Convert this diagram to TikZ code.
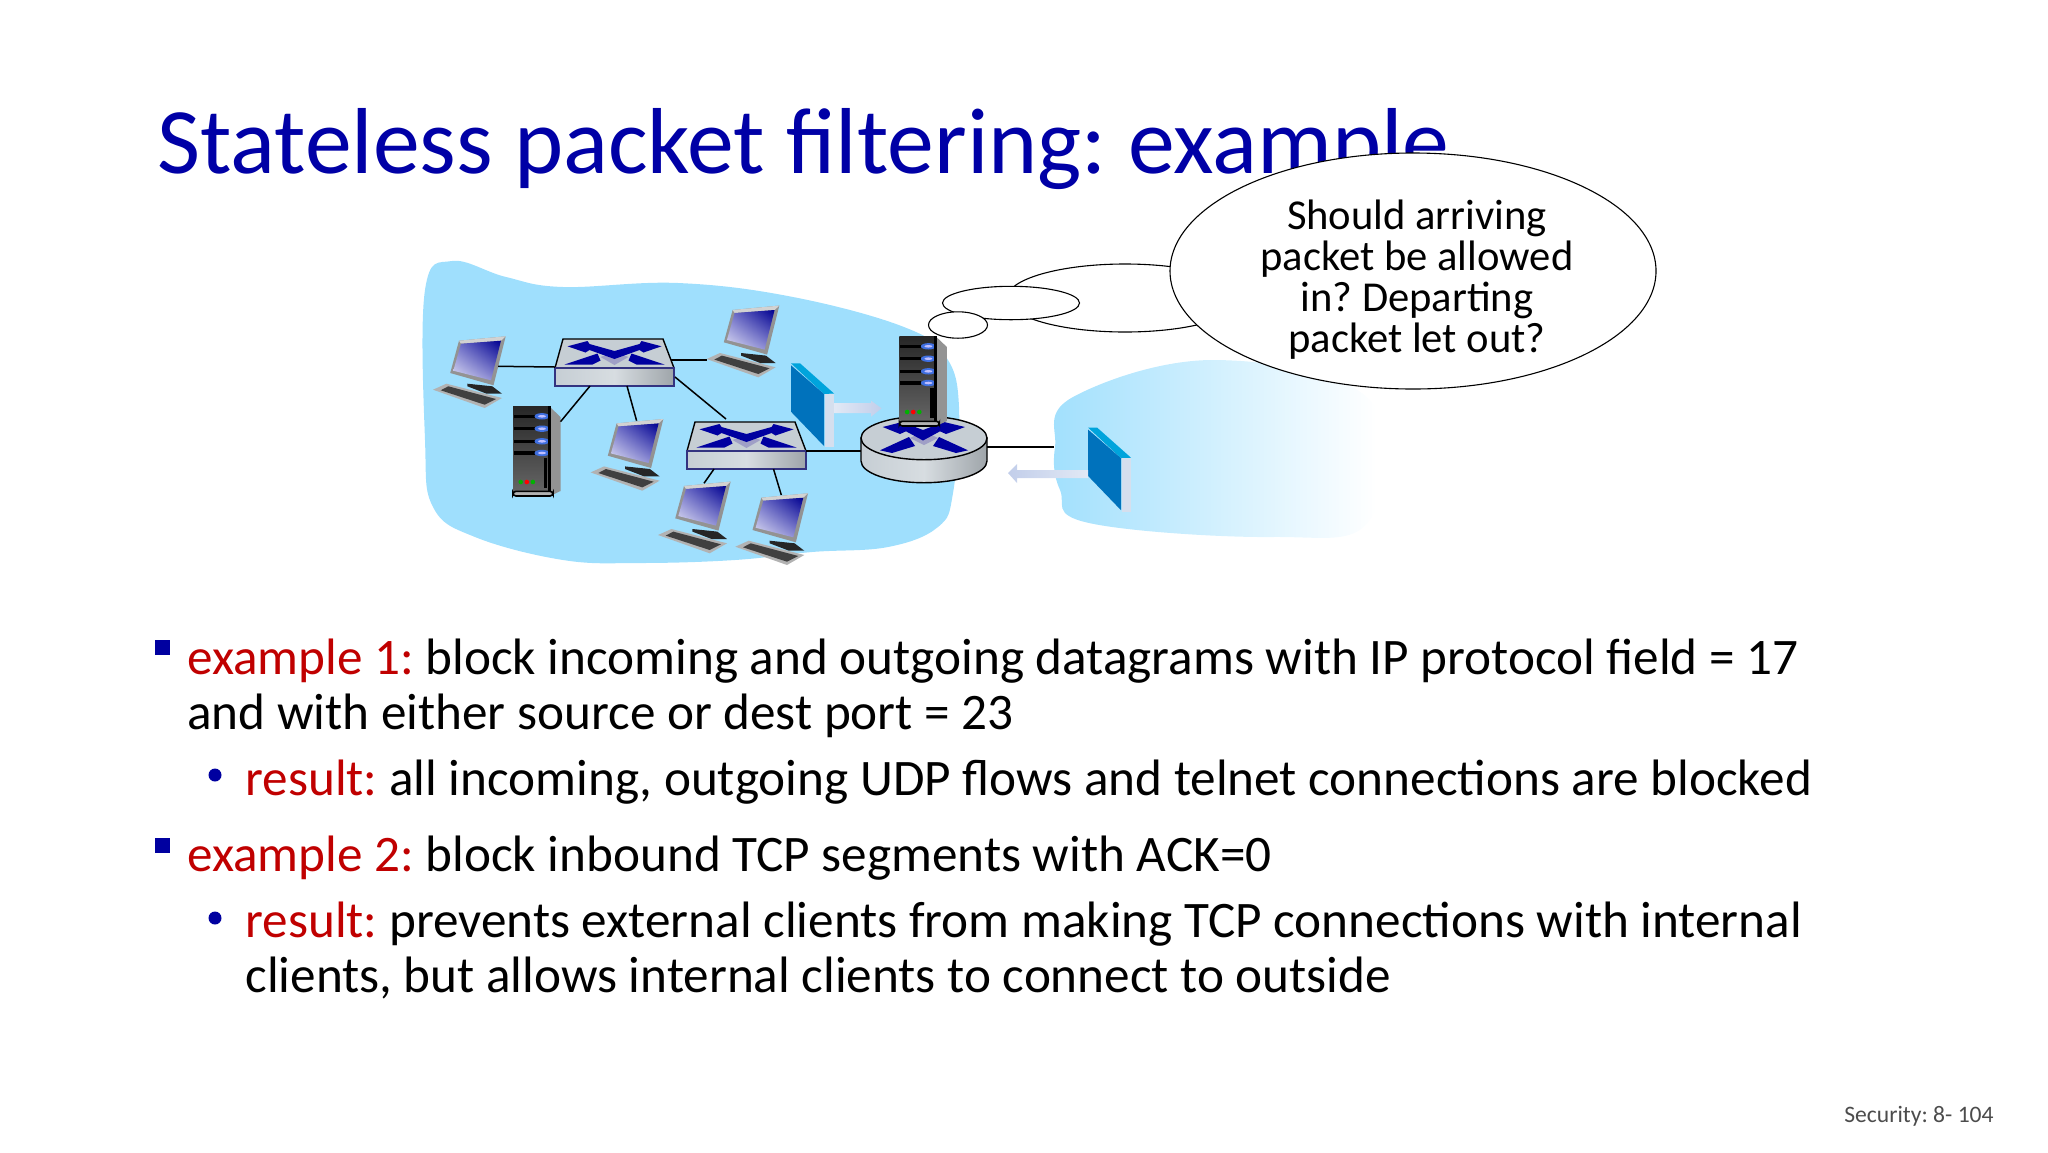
\documentclass[tikz,border=0pt]{standalone}
\usepackage{fontspec}
\setmainfont{Carlito}
\usetikzlibrary{positioning, shapes.geometric, shadings}
\definecolor{cloudblue}{HTML}{9FDFFD}
\definecolor{titleblue}{HTML}{0000A6}
\definecolor{keyred}{HTML}{C00000}
\definecolor{xblue}{HTML}{0000A0}
\definecolor{steel}{HTML}{C6CED4}
\definecolor{wallfront}{HTML}{0072BC}
\definecolor{walltop}{HTML}{00A4DC}
\definecolor{wallside}{HTML}{D5DFEE}
\definecolor{pale}{HTML}{E2E9F5}
\definecolor{paledark}{HTML}{C2CEEA}
\definecolor{ledblue}{HTML}{3F6FE0}
\pgfdeclarehorizontalshading{fadeblue}{100bp}{color(0bp)=(cloudblue); color(25bp)=(cloudblue); color(50bp)=(cloudblue!45!white); color(72bp)=(white); color(100bp)=(white)}
\tikzset{
link/.style={draw=black, line width=.75pt}, % Cables between devices
thought/.style={draw=black, line width=.55pt, fill=white}, % Thought bubble
line1/.style={anchor=base west, inner sep=0pt, font=\fontsize{25.6}{30}\selectfont},
headmark/.style={fill=xblue},
pcbox/.pic={
    % Keyboard and stand
    \fill[gray!60] (0,18.3) -- (13.4,24.3) -- (69,10) -- (51.7,0) -- cycle;
    \fill[black!75] (7.7,17.7) -- (15.3,21.7) -- (63,9) -- (51.7,3.3) -- cycle;
    \fill[black!85] (34.4,24.3) -- (59.3,21.7) -- (69,14.3) -- (53.6,14.3) -- (34.4,21.7) -- cycle;
    % Monitor
    \fill[gray!85] (26,67.3) -- (72.7,71.7) -- (60.5,22.7) -- (17.2,35) -- cycle;
    \fill[gray!35] (26,67.3) -- (72.7,71.7) -- (68,67.3) -- (28,64.3) -- cycle;
    \shade[upper right=xblue!90!black, lower left=xblue!12, upper left=xblue!55, lower right=xblue!50]
        (28,64.3) -- (68,67.3) -- (58,27.7) -- (20.3,37.3) -- cycle;
    \coordinate (-port) at (65.2,41.7);
    \coordinate (-top) at (46,70);
    \coordinate (-kb) at (0,17.3);
},
serverbox/.pic={
    \fill[gray!85] (37,90) -- (47.5,80) -- (47.5,6) -- (37,1) -- cycle;
    \shade[top color=black!85, bottom color=black!60] (0,4) rectangle (37,91);
    \foreach \h in {80.7,68.3,55.7,44}{
        \fill[black] (1,\h-1.6) rectangle (22,\h+1.6);
        \fill[ledblue] (29,\h) ellipse [x radius=7.5, y radius=3.2];
        \fill[blue!25] (29,\h) ellipse [x radius=4, y radius=1.3];
    }
    \fill[black] (30.6,9) rectangle (34.4,39);
    \fill[green!70!black] (7.7,15) circle [radius=2.3];
    \fill[red] (13.8,15) circle [radius=2.3];
    \fill[green!70!black] (19.9,15) circle [radius=2.3];
    \fill[black] (35,4) rectangle (38,91);
    \draw[fill=gray!60, line width=.8pt, rounded corners=1.5pt] (0,1) rectangle (40,5.7);
    \coordinate (-port) at (47.5,75.3);
},
switchbox/.pic={
    \draw[black, line width=.7pt, fill=steel] (-51.5,29) -- (48.5,29) -- (59.5,0) -- (-59.5,0) -- cycle;
    \fill[blue!25!gray!60] (-14,11) -- (0,16) -- (14,11) -- (0,3) -- cycle;
    \fill[xblue] (-47,21.7) -- (-27,27) -- (-25,24) -- (0,17) -- (25,24) -- (27,27) -- (47,21.7)
        -- (29,15.5) -- (25,18) -- (0,9) -- (-25,18) -- (-29,15.5) -- cycle;
    \fill[xblue] (-50,3.5) -- (-17,14.5) -- (-14,7.5) -- (-22,3.5) -- cycle;
    \fill[xblue] (50,3.5) -- (17,14.5) -- (14,7.5) -- (22,3.5) -- cycle;
    \shade[left color=steel, right color=steel!80!black, middle color=steel!70!white, draw=black!50!blue!60!gray, line width=.6pt]
        (-59.5,0) rectangle (59.5,-18);
    \coordinate (-left) at (-59.5,1);
    \coordinate (-right) at (59.5,0);
    \coordinate (-upright) at (56.5,8);
    \coordinate (-lowright) at (60.5,-9);
    \coordinate (-topin) at (-20.5,32);
    \coordinate (-b1) at (-24.5,-18);
    \coordinate (-b2) at (12.5,-18);
    \coordinate (-b3) at (-32.5,-18);
    \coordinate (-b4) at (27,-18);
},
routerbox/.pic={
    \shade[draw=black, line width=.7pt, left color=steel, right color=steel!80!black, middle color=steel!70!white]
        (-63,0) -- (-63,-23) arc [start angle=180, end angle=360, x radius=63, y radius=21.7] -- (63,0) -- cycle;
    \draw[black, line width=.7pt, fill=steel] (0,0) ellipse [x radius=63, y radius=21.7];
    \fill[blue!25!gray!60] (-14,0) -- (0,7) -- (14,0) -- (0,-7) -- cycle;
    \fill[xblue] (-41.3,11) -- (-22,16) -- (-1,8) -- (20,16) -- (41,11) -- (22,4) -- (16,6.7) -- (-1,-2.5)
        -- (-18,6.7) -- (-24,4) -- cycle;
    \fill[xblue] (-44,-12.3) -- (-15,1) -- (-9,-8) -- (-32,-15) -- cycle;
    \fill[xblue] (44,-12.3) -- (15,1) -- (9,-8) -- (32,-15) -- cycle;
    \coordinate (-left) at (-63,-13);
    \coordinate (-right) at (63,-9);
},
wallbox/.pic={
    \fill[walltop] (0,0) -- (9,0) -- (43,-30.2) -- (33,-30.7) -- cycle;
    \fill[wallfront] (0,-2) -- (33,-30.7) -- (33,-82.7) -- (0,-48.4) -- cycle;
    \fill[wallside] (34,-30.7) -- (43,-30.7) -- (43,-84) -- (34,-84) -- cycle;
}
}

\begin{document}
\frenchspacing
\begin{tikzpicture}[x=.5pt, y=.5pt]
    \useasboundingbox (0,0) rectangle (2048,-1152);

    % Networks
    \fill[cloudblue] plot[smooth cycle, tension=.65] coordinates {(452,-261) (425,-290) (425,-440) (433,-507) (475,-537)
        (563,-560) (640,-563) (735,-560) (812,-552) (888,-547) (938,-527) (953,-493) (959,-407) (946,-357) (904,-327)
        (793,-297) (678,-283) (563,-287) (506,-277)};
    \shade[shading=fadeblue] plot[smooth cycle, tension=.65] coordinates {(1055,-447) (1073,-397)
        (1215,-360) (1370,-400) (1370,-520) (1272,-537) (1089,-523) (1060,-490)};

    \node[anchor=base west, inner sep=0pt, text=titleblue, font=\fontsize{46.85}{54}\selectfont] (title) at (157,-173) {Stateless packet filtering: example};

    % Thought bubble
    \draw[thought] (1125,-298) ellipse [x radius=118, y radius=34];
    \draw[thought] (1011,-303) ellipse [x radius=68.5, y radius=16.7];
    \draw[thought] (958,-325) ellipse [x radius=29.5, y radius=13.2];
    \draw[thought] (1413,-271) ellipse [x radius=243, y radius=118];
    \node[inner sep=0pt, align=center, font=\fontsize{21.3}{20.5}\selectfont] (question) at (1417,-280) {Should arriving\\packet be allowed\\in? Departing\\packet let out?};

    % Devices
    \pic (wall1) at (791,-363.3) {wallbox};
    \pic (wall2) at (1088,-427.5) {wallbox};
    \shade[left color=pale, right color=paledark] (834,-403) -- (871,-403) -- (871,-400.7) -- (881.5,-408.3) -- (871,-416.7) -- (871,-413) -- (834,-413) -- cycle;
    \shade[left color=paledark, right color=pale] (1088,-470) -- (1017,-470) -- (1017,-464) -- (1008,-473) -- (1017,-483) -- (1017,-478) -- (1088,-478) -- cycle;

    \pic (sw1) at (614.5,-368) {switchbox};
    \pic (sw2) at (746.5,-451) {switchbox};
    \pic (router) at (924,-438) {routerbox};
    \pic (srv1) at (513,-497) {serverbox};
    \pic (srv2) at (899.4,-427) {serverbox};
    \pic (pc1) at (433,-408) {pcbox};
    \pic (pc2) at (706.6,-377.3) {pcbox};
    \pic (pc3) at (590.6,-490.7) {pcbox};
    \pic (pc4) at (658,-553.3) {pcbox};
    \pic (pc5) at (735.3,-565) {pcbox};
    \coordinate (outside) at (1054,-447);

    % Cables
    \draw[link] (pc1-port) -- (sw1-left);
    \draw[link] (sw1-upright) -- (pc2-kb);
    \draw[link] (sw1-b1) -- (srv1-port);
    \draw[link] (sw1-b2) -- (pc3-top);
    \draw[link] (sw1-lowright) -- (sw2-topin);
    \draw[link] (sw2-right) -- (router-left);
    \draw[link] (sw2-b3) -- (pc4-top);
    \draw[link] (sw2-b4) -- (pc5-top);
    \draw[link] (router-right) -- (outside);

    % Bullets
    \fill[headmark] (154.5,-640) rectangle (170,-655);
    \fill[headmark] (154.5,-838) rectangle (170,-853);
    \fill[headmark] (215,-775) circle [radius=6.5];
    \fill[headmark] (215,-918) circle [radius=6.5];

    \node[line1] (ex1) at (187,-674.5) {\textcolor{keyred}{example 1:} block incoming and outgoing datagrams with IP protocol field = 17};
    \node[line1] (ex1b) at (187,-729.5) {and with either source or dest port = 23};
    \node[line1] (res1) at (245,-795) {\textcolor{keyred}{result:} all incoming, outgoing UDP flows and telnet connections are blocked};
    \node[line1] (ex2) at (187,-871) {\textcolor{keyred}{example 2:} block inbound TCP segments with ACK=0};
    \node[line1] (res2) at (245,-937) {\textcolor{keyred}{result:} prevents external clients from making TCP connections with internal};
    \node[line1] (res2b) at (245,-992.5) {clients, but allows internal clients to connect to outside};

    \node[anchor=base east, inner sep=0pt, text=black!70, font=\fontsize{11.8}{14}\selectfont] (pageno) at (1994,-1122) {Security: 8- 104};
\end{tikzpicture}
\end{document}
